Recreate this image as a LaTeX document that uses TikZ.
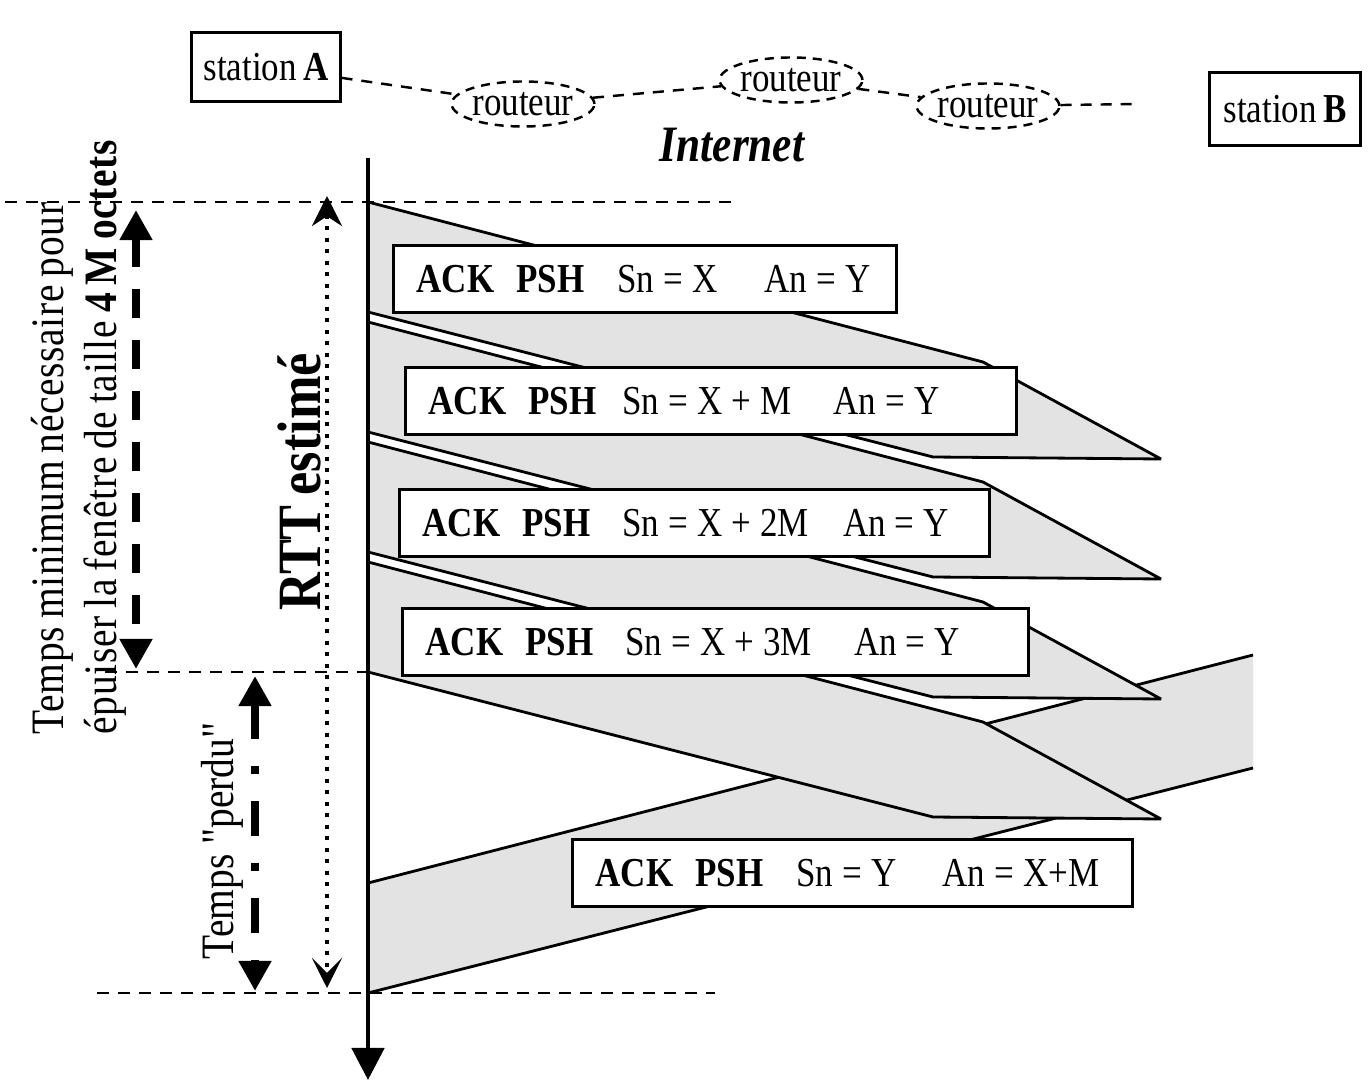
\documentclass[tikz,border=0pt]{standalone}
\usepackage{fontspec}
\setmainfont{Liberation Serif}[FakeStretch=0.85, WordSpace=0.75]
\newfontfamily\serifdroit{Liberation Serif}[FakeStretch=0.85]
\usetikzlibrary{arrows.meta,shapes.geometric}
\definecolor{grispaquet}{RGB}{227,227,227}

\begin{document}
\begin{tikzpicture}[x=0.01cm, y=-0.01cm,
    every node/.style={font=\fontsize{11.7}{14}\selectfont},
    station/.style={draw, line width=0.85pt, minimum width=1.48cm, minimum height=0.69cm, inner sep=0pt},
    routeur/.style={ellipse, draw, line width=0.7pt, dash pattern=on 0.09cm off 0.07cm, minimum width=1.3cm, minimum height=0.45cm, inner sep=0pt},
    lien/.style={line width=0.7pt, dash pattern=on 0.11cm off 0.09cm},
    trame/.style={draw, fill=white, line width=0.85pt, anchor=north west, inner xsep=0.23cm, inner ysep=0pt, minimum height=0.67cm, text width=#1, align=left},
    paquet/.style={draw, fill=grispaquet, line width=0.8pt, line join=bevel},
    repere/.style={line width=0.8pt, dash pattern=on 0.12cm off 0.09cm},
    grosse/.style={line width=2.3pt, {Triangle[length=0.3cm,width=0.31cm]}-{Triangle[length=0.3cm,width=0.31cm]}}]
  \fill[white] (0,0) rectangle (1369,1088);
  \useasboundingbox (0,0) rectangle (1369,1088);

  \node[station] (stA) at (266,67) {station \textbf{A}};
  \node[station, minimum width=1.5cm, minimum height=0.72cm] (stB) at (1285,109) {station \textbf{B}};
  \node[routeur] (r1) at (523,104) {routeur};
  \node[routeur] (r2) at (791,80) {routeur};
  \node[routeur] (r3) at (988,106) {routeur};
  \coordinate (finlien) at (1140,104);
  \draw[lien] (stA) -- (r1);
  \draw[lien] (r1) -- (r2);
  \draw[lien] (r2) -- (r3);
  \draw[lien] (r3) -- (finlien);
  \node[font=\fontsize{14.5}{17}\selectfont\bfseries\itshape] (internet) at (732,145) {Internet};

  % retour B -> A
  \fill[grispaquet] (368,883) -- (1253,655) -- (1253,768) -- (368,993) -- cycle;
  \draw[line width=0.8pt] (368,883) -- (1253,655);
  \draw[line width=0.8pt] (368,993) -- (1253,768);
  % envois A -> B
  \foreach \yt in {202,322,442,562}
    \draw[paquet] (368,\yt) -- (983,\yt+160) -- (1161,\yt+257) -- (933,\yt+255) -- (368,\yt+110) -- cycle;

  \node[trame=4.57cm] (ack1) at (392,244) {\mbox{\textbf{ACK\hspace{0.22cm}PSH}\hspace{0.33cm}Sn\:=\:X\hspace{0.47cm}An\:=\:Y}};
  \node[trame=5.65cm] (ack2) at (404,366) {\mbox{\textbf{ACK\hspace{0.22cm}PSH}\hspace{0.26cm}Sn\:=\:X\:+\:M\hspace{0.42cm}An\:=\:Y}};
  \node[trame=5.44cm] (ack3) at (398,488) {\mbox{\textbf{ACK\hspace{0.22cm}PSH}\hspace{0.32cm}Sn\:=\:X\:+\:2M\hspace{0.34cm}An\:=\:Y}};
  \node[trame=5.80cm] (ack4) at (401,607) {\mbox{\textbf{ACK\hspace{0.22cm}PSH}\hspace{0.32cm}Sn\:=\:X\:+\:3M\hspace{0.42cm}An\:=\:Y}};
  \node[trame=5.14cm] (ack5) at (571,838) {\mbox{\textbf{ACK\hspace{0.22cm}PSH}\hspace{0.33cm}Sn\:=\:Y\hspace{0.46cm}An\:=\:X+M}};

  \coordinate (axehaut) at (368,158);
  \coordinate (axebas) at (368,1080);
  \draw[line width=1.4pt, -{Triangle[length=0.32cm,width=0.32cm]}] (axehaut) -- (axebas);

  \draw[repere] (5,202) -- (737,202);
  \draw[repere] (105,672) -- (368,672);
  \draw[repere] (97,993) -- (715,993);

  \coordinate (fen1) at (136,210);
  \coordinate (fen2) at (136,669);
  \draw[grosse, dash pattern=on 0.29cm off 0.22cm] (fen1) -- (fen2);
  \coordinate (perdu1) at (255,676);
  \coordinate (perdu2) at (255,991);
  \draw[grosse, dash pattern=on 0.35cm off 0.27cm on 0.08cm off 0.27cm] (perdu1) -- (perdu2);
  \coordinate (rtt1) at (327,196);
  \coordinate (rtt2) at (327,988);
  \draw[line width=1.1pt, dash pattern=on 0.04cm off 0.075cm, {Stealth[length=0.3cm,width=0.3cm]}-{Stealth[length=0.3cm,width=0.3cm,inset=0.15cm]}] (rtt1) -- (rtt2);

  \node[rotate=90, font=\fontsize{17.5}{20}\selectfont\bfseries] (rtt) at (299,482) {RTT estimé};
  \node[rotate=90, anchor=north west, align=left, inner sep=0pt, font=\fontsize{13.2}{15}\selectfont\addfontfeatures{LetterSpace=1.5}] (fenetre) at (31,735) {Temps minimum nécessaire pour\\épuiser la fenêtre de taille \textbf{4 M octets}};
  \node[rotate=90, anchor=north west, inner sep=0pt, font=\fontsize{13.2}{16}\serifdroit] (perdu) at (201,960) {Temps "perdu"};
\end{tikzpicture}
\end{document}
